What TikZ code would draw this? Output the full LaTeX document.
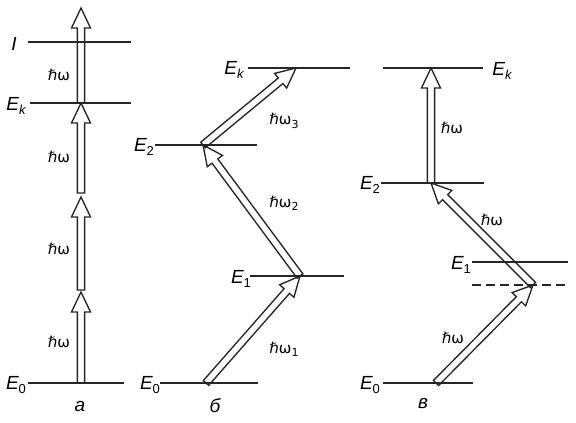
\documentclass[tikz,border=0pt]{standalone}
\usepackage{fontspec}
\setmainfont{Liberation Sans}
\newfontfamily\dv{DejaVu Sans}
\usetikzlibrary{calc}
\tikzset{
  level/.style={line width=2.9pt, draw=black!85},
  dlevel/.style={level, line width=2.4pt, dash pattern=on 9pt off 5pt},
  harrow/.style={line width=1.35pt, draw=black!85, line join=miter},
  lab/.style={font=\fontsize{19}{19}\selectfont\itshape, inner sep=0pt},
  hw/.style={font=\dv\fontsize{15}{15}\selectfont, inner sep=0pt},
}
\newcommand\lev[2]{#1\raisebox{-0.45ex}{\fontsize{13}{13}\selectfont\upshape #2}}
\newcommand\levk[2]{#1\raisebox{-0.45ex}{\fontsize{13}{13}\selectfont #2}}
\newcommand\hwsub[1]{\raisebox{-0.4ex}{\fontsize{11}{11}\selectfont #1}}
\newcommand\hollow[2]{%
  \draw[harrow] let \p1=($(#2)-(#1)$), \n1={atan2(\y1,\x1)} in
   ($(#1)+(\n1+90:3.6pt)$) -- ($(#2)+(\n1+180:20pt)+(\n1+90:3.6pt)$)
   -- ($(#2)+(\n1+180:20pt)+(\n1+90:9.5pt)$) -- (#2)
   -- ($(#2)+(\n1+180:20pt)+(\n1-90:9.5pt)$) -- ($(#2)+(\n1+180:20pt)+(\n1-90:3.6pt)$)
   -- ($(#1)+(\n1-90:3.6pt)$) -- cycle;}
\begin{document}
\begin{tikzpicture}[x=1pt,y=-1pt]
\useasboundingbox (0,0) rectangle (576,423);
% ---------- panel a ----------
\draw[level] (28,42) coordinate (aIl) -- (131,42) coordinate (aIr);
\draw[level] (30,103) coordinate (aKl) -- (131,103) coordinate (aKr);
\draw[level] (28,383) coordinate (a0l) -- (124,383) coordinate (a0r);
\node[lab] (laI) at (14,44) {I};
\node[lab] (laK) at (16,106) {\levk{E}{k}};
\node[lab] (la0) at (16,385) {\lev{E}{0}};
\coordinate (a1s) at (81,383); \coordinate (a1e) at (81,292);
\coordinate (a2s) at (81,290); \coordinate (a2e) at (81,197);
\coordinate (a3s) at (81,193); \coordinate (a3e) at (81,103);
\coordinate (a4s) at (81,103); \coordinate (a4e) at (81,8);
\hollow{a1s}{a1e}
\hollow{a2s}{a2e}
\hollow{a3s}{a3e}
\hollow{a4s}{a4e}
\node[hw] (ha1) at (59,342) {ℏω};
\node[hw] (ha2) at (59,249) {ℏω};
\node[hw] (ha3) at (59,157) {ℏω};
\node[hw] (ha4) at (59,75) {ℏω};
\node[lab] (capa) at (80,406) {а};
% ---------- panel b ----------
\draw[level] (248,68) -- (350,68);
\draw[level] (155,145) -- (257,145);
\draw[level] (250,276) -- (344,276);
\draw[level] (160,383) -- (258,383);
\node[lab] (lbK) at (234,70) {\levk{E}{k}};
\node[lab] (lb2) at (144,147) {\lev{E}{2}};
\node[lab] (lb1) at (241,279) {\lev{E}{1}};
\node[lab] (lb0) at (150,385) {\lev{E}{0}};
\coordinate (b0) at (206,383);
\coordinate (b1) at (300,276);
\coordinate (b2) at (203,145);
\coordinate (bK) at (296,68);
\hollow{b0}{b1}
\hollow{b1}{b2}
\hollow{b2}{bK}
\node[hw] (hb1) at (284,349) {ℏω\hwsub{1}};
\node[hw] (hb2) at (284,203) {ℏω\hwsub{2}};
\node[hw] (hb3) at (284,121) {ℏω\hwsub{3}};
\node[lab] (capb) at (215,406) {б};
% ---------- panel v ----------
\draw[level] (383,68) -- (483,68);
\draw[level] (381,183) -- (484,183);
\draw[level] (472,262) -- (568,262);
\draw[dlevel] (472,285) -- (568,285);
\draw[level] (383,383) -- (473,383);
\node[lab] (lvK) at (502,71) {\levk{E}{k}};
\node[lab] (lv2) at (370,185) {\lev{E}{2}};
\node[lab] (lv1) at (461,265) {\lev{E}{1}};
\node[lab] (lv0) at (370,385) {\lev{E}{0}};
\coordinate (v0) at (436,383);
\coordinate (vd) at (533,285);
\coordinate (v2) at (431,183);
\coordinate (vK) at (431,68);
\hollow{v0}{vd}
\hollow{vd}{v2}
\hollow{v2}{vK}
\node[hw] (hv1) at (453,338) {ℏω};
\node[hw] (hv2) at (492,220) {ℏω};
\node[hw] (hv3) at (452,128) {ℏω};
\node[lab] (capv) at (423,404) {в};
\end{tikzpicture}
\end{document}
